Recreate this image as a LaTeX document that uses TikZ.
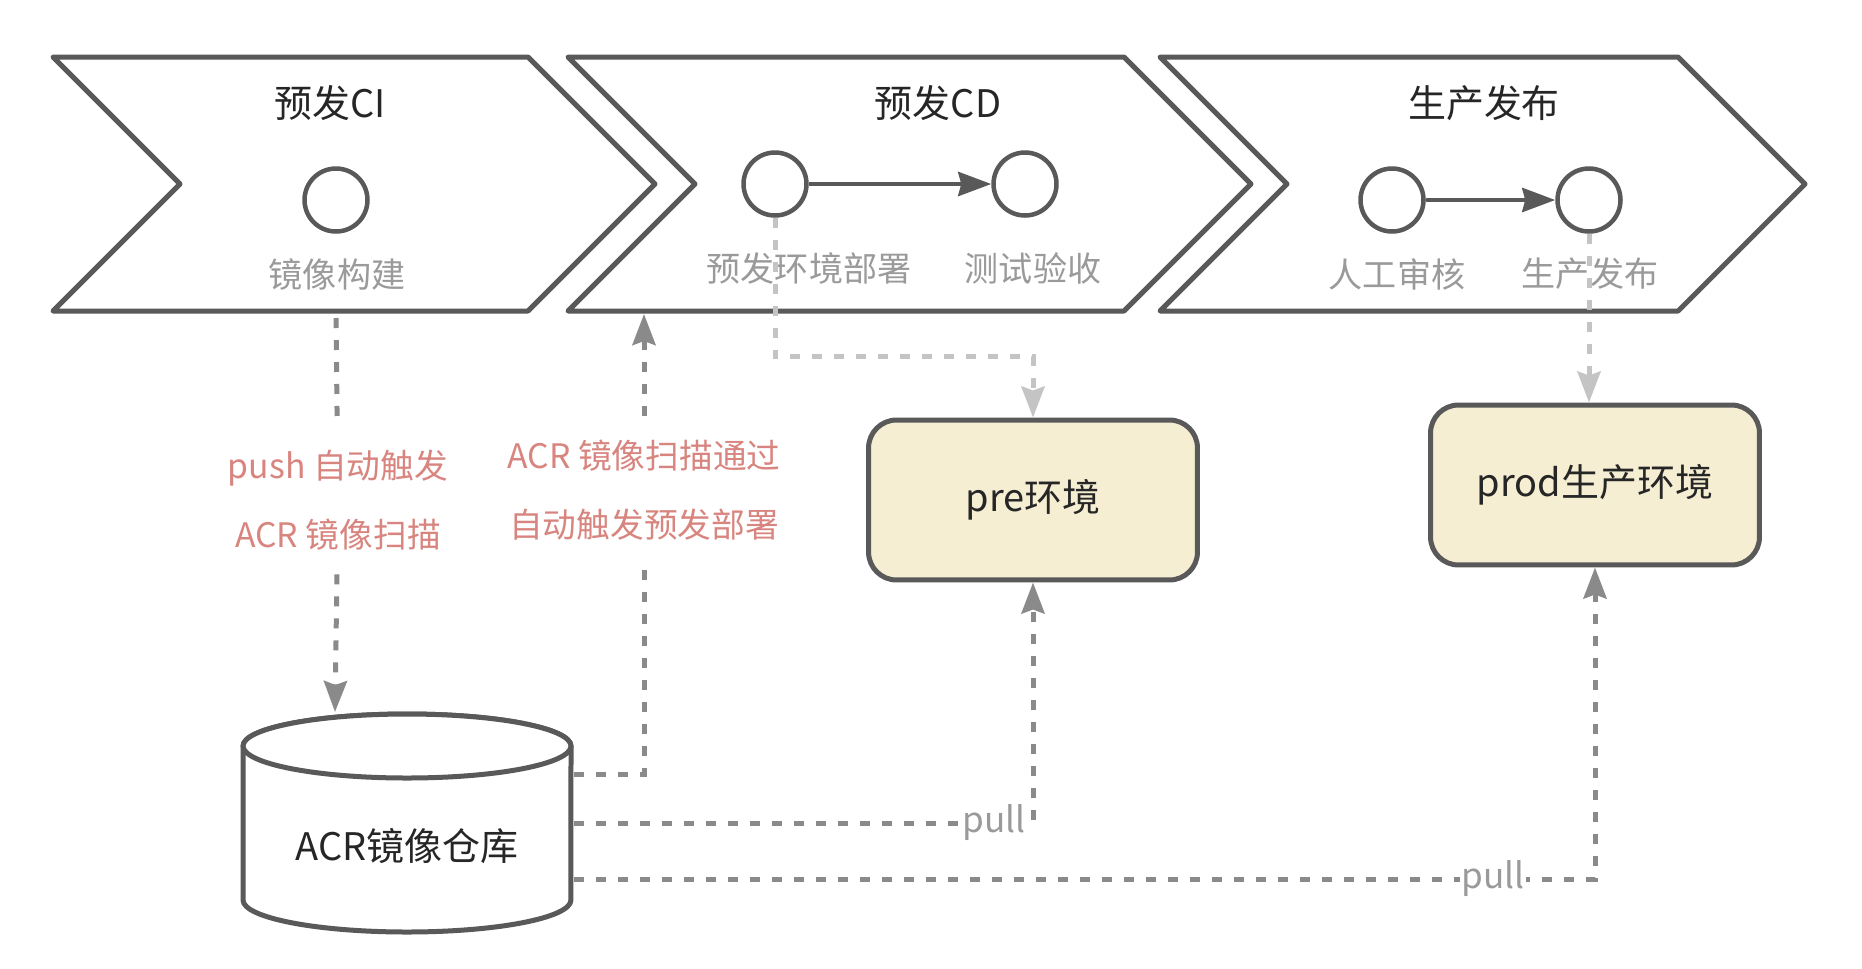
\documentclass[tikz,border=0pt]{standalone}
\usepackage{fontspec}
\setmainfont{Noto Sans CJK SC}
\usetikzlibrary{arrows.meta}
\definecolor{ink}{HTML}{595959}
\definecolor{darkdash}{HTML}{8A8A8A}
\definecolor{lightdash}{HTML}{C4C4C4}
\definecolor{salmon}{HTML}{D9857F}
\definecolor{cream}{HTML}{F6EED3}
\definecolor{txt}{HTML}{262626}
\definecolor{subtxt}{HTML}{9A9A9A}

\begin{document}
\begin{tikzpicture}[x=0.02cm,y=-0.02cm,
  big/.style={font=\fontsize{21.6}{26}\selectfont,text=txt},
  chev/.style={draw=ink,line width=.1cm,fill=white,line join=round},
  ring/.style={circle,draw=ink,line width=.09cm,fill=white,minimum size=1.26cm,inner sep=0pt},
  sub/.style={font=\fontsize{19.4}{23}\selectfont,text=subtxt},
  flow/.style={ink,line width=.09cm,-{Stealth[length=.66cm,width=.48cm,inset=.06cm]}},
  env/.style={big,rounded corners=.56cm,draw=ink,line width=.1cm,fill=cream,
              minimum width=6.58cm,minimum height=3.2cm},
  dk/.style={darkdash,line width=.1cm,dash pattern=on .2cm off .24cm},
  lt/.style={lightdash,line width=.1cm,dash pattern=on .2cm off .24cm},
  tip/.style={-{Stealth[length=.62cm,width=.46cm,inset=.08cm]}},
  note/.style={font=\fontsize{19.2}{39.3}\selectfont,text=salmon,align=center,fill=white,
               inner sep=0pt,minimum height=2.96cm},
  pull/.style={font=\fontsize{20}{24}\selectfont,text=subtxt,fill=white,inner sep=1pt}]
  \fill[white] (0,0) rectangle (1862,968);
  % stages
  \draw[chev] (53,57) -- (528,57) -- (655,184) -- (528,311) -- (53,311) -- (180,184) -- cycle;
  \draw[chev] (568,57) -- (1124,57) -- (1251,184) -- (1124,311) -- (568,311) -- (695,184) -- cycle;
  \draw[chev] (1160,57) -- (1678,57) -- (1805,184) -- (1678,311) -- (1160,311) -- (1287,184) -- cycle;
  \node[big] (ci-t) at (330,103) {预发CI};
  \node[big] (cd-t) at (938,103) {预发CD};
  \node[big] (pr-t) at (1484,103) {生产发布};
  \node[ring] (ci1) at (336,200) {};
  \node[ring] (cd1) at (775,184) {};
  \node[ring] (cd2) at (1025,184) {};
  \node[ring] (pr1) at (1392,200) {};
  \node[ring] (pr2) at (1589,200) {};
  \node[sub] (ci1-l) at (337,274) {镜像构建};
  \node[sub] (cd1-l) at (809,268) {预发环境部署};
  \node[sub] (cd2-l) at (1033,268) {测试验收};
  \node[sub] (pr1-l) at (1397,274) {人工审核};
  \node[sub] (pr2-l) at (1590,274) {生产发布};
  \draw[flow] (cd1) -- (cd2);
  \draw[flow] (pr1) -- (pr2);
  % environments
  \node[env] (pre) at (1033,500) {pre环境};
  \node[env] (prod) at (1595,485) {prod生产环境};
  % registry
  \draw[chev] (243,746) -- (243,900) arc[start angle=180,end angle=360,x radius=3.28cm,y radius=.64cm]
    -- (571,746) arc[start angle=0,end angle=180,x radius=3.28cm,y radius=.64cm] -- cycle;
  \draw[chev] (407,746) ellipse[x radius=3.28cm,y radius=.64cm];
  \node[big] (acr) at (407,846) {ACR镜像仓库};
  \coordinate (acr-top) at (335,712);
  \coordinate (acr-a) at (574,774);
  \coordinate (acr-b) at (574,823);
  \coordinate (acr-c) at (574,879);
  \coordinate (ci-b) at (336,318);
  \coordinate (cd-b) at (644,314);
  % links
  \node[note] (push-l) at (338,500) {push 自动触发\\ACR 镜像扫描};
  \draw[dk] (ci-b) -- (push-l);
  \draw[dk,tip] (push-l) -- (acr-top);
  \node[note] (scan-l) at (644,490) {ACR 镜像扫描通过\\自动触发预发部署};
  \draw[dk] (acr-a) -| (scan-l);
  \draw[dk,tip] (scan-l) -- (cd-b);
  \draw[lt,tip] (cd1.south) |- ([yshift=1.22cm]pre.north) -- (pre.north);
  \draw[lt,tip] (pr2.south) -- (pr2.south |- prod.north);
  \draw[dk,tip] (acr-b) -| node[pull,pos=.5,anchor=east,xshift=-.06cm] (pull1) {pull} (pre.south);
  \draw[dk,tip] (acr-c) -| node[pull,pos=.45] (pull2) {pull} (prod.south);
\end{tikzpicture}
\end{document}
